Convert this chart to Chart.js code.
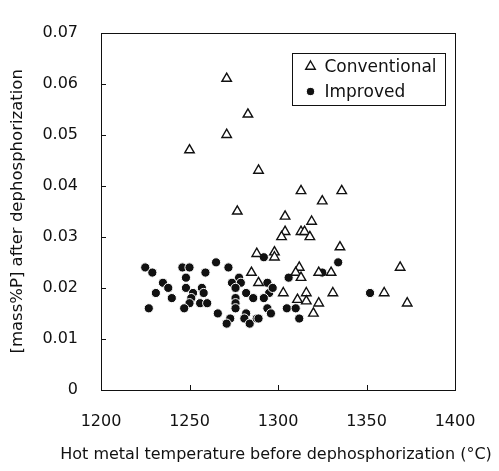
<!DOCTYPE html>
<html>
<head>
<meta charset="utf-8">
<script src="https://cdn.jsdelivr.net/npm/chart.js@4/dist/chart.umd.min.js"></script>
<style>
    html, body { margin: 0; padding: 0; background: #fff; }
    canvas { display: block; }
</style>
</head>
<body>
<canvas id="chartCanvas" width="499" height="471"></canvas>
<script>
"use strict";

// temperature before dephosphorization (deg C) and [mass%P] after
var conventionalTemp = [1250, 1271, 1271, 1283, 1289, 1277, 1313, 1336, 1325, 1304,
    1319, 1304, 1302, 1313, 1315, 1318, 1335, 1288, 1298, 1298,
    1369, 1312, 1310, 1313, 1323, 1330, 1285, 1289, 1303, 1311,
    1316, 1316, 1331, 1360, 1373, 1323, 1320];
var conventionalP = [0.047, 0.061, 0.050, 0.054, 0.043, 0.035, 0.039, 0.039, 0.037, 0.034,
    0.033, 0.031, 0.030, 0.031, 0.031, 0.030, 0.028, 0.0267, 0.027, 0.026,
    0.024, 0.024, 0.023, 0.022, 0.023, 0.023, 0.023, 0.021, 0.019, 0.0177,
    0.019, 0.0174, 0.019, 0.019, 0.017, 0.017, 0.015];

var improvedTemp = [1225, 1229, 1235, 1238, 1231, 1240, 1227, 1246, 1250, 1248,
    1248, 1252, 1251, 1250, 1247, 1257, 1258, 1256, 1260, 1259,
    1265, 1272, 1266, 1278, 1274, 1279, 1276, 1282, 1276, 1276,
    1276, 1273, 1271, 1282, 1281, 1284, 1288, 1286, 1292, 1294,
    1295, 1292, 1294, 1296, 1297, 1289, 1306, 1305, 1310, 1312,
    1325, 1334, 1352];
var improvedP = [0.024, 0.023, 0.021, 0.020, 0.019, 0.018, 0.016, 0.024, 0.024, 0.022,
    0.020, 0.019, 0.018, 0.017, 0.016, 0.020, 0.019, 0.017, 0.017, 0.023,
    0.025, 0.024, 0.015, 0.022, 0.021, 0.021, 0.020, 0.019, 0.018, 0.017,
    0.016, 0.014, 0.013, 0.015, 0.014, 0.013, 0.014, 0.018, 0.026, 0.021,
    0.019, 0.018, 0.016, 0.015, 0.020, 0.014, 0.022, 0.016, 0.016, 0.014,
    0.023, 0.025, 0.019];

var seriesNames = ["Conventional", "Improved"];
var xTickValues = [1200, 1250, 1300, 1350, 1400];
var yTickValues = [0, 0.01, 0.02, 0.03, 0.04, 0.05, 0.06, 0.07];
var yTickLabels = ["0", "0.01", "0.02", "0.03", "0.04", "0.05", "0.06", "0.07"];
var xTitle = "Hot metal temperature before dephosphorization (°C)";
var yTitle = "[mass%P] after dephosphorization";

var FONT = "'DejaVu Sans', Verdana, sans-serif";
var INK = "#111";

function toPoints(xs, ys)
{
    return xs.map(function(x, i)
    {
        return { x: x, y: ys[i] };
    });
}

function drawMarker(ctx, dataset, x, y)
{
    ctx.save();
    ctx.lineWidth = dataset.borderWidth;
    ctx.strokeStyle = dataset.borderColor;
    ctx.fillStyle = dataset.backgroundColor;
    ctx.beginPath();
    if (dataset.pointStyle === "triangle")
    {
        var r = dataset.pointRadius;
        ctx.moveTo(x, y - r);
        ctx.lineTo(x + r * 0.866, y + r * 0.5);
        ctx.lineTo(x - r * 0.866, y + r * 0.5);
        ctx.closePath();
    }
    else
    {
        ctx.arc(x, y, dataset.pointRadius - 0.5, 0, Math.PI * 2);
    }
    ctx.fill();
    ctx.stroke();
    ctx.restore();
}

// frame, inward tick marks, x title (wider than the plot) and the boxed legend
var framePlugin =
{
    id: "frame",
    afterDraw: function(chart)
    {
        var ctx = chart.ctx;
        var area = chart.chartArea;
        var xScale = chart.scales.x;
        var yScale = chart.scales.y;

        ctx.save();
        ctx.strokeStyle = INK;
        ctx.lineWidth = 1;
        ctx.strokeRect(Math.round(area.left) + 0.5, Math.round(area.top) + 0.5,
            Math.round(area.right - area.left), Math.round(area.bottom - area.top));

        ctx.beginPath();
        xTickValues.forEach(function(v)
        {
            var px = Math.round(xScale.getPixelForValue(v)) + 0.5;
            ctx.moveTo(px, area.bottom);
            ctx.lineTo(px, area.bottom - 5);
        });
        yTickValues.forEach(function(v)
        {
            var py = Math.round(yScale.getPixelForValue(v)) + 0.5;
            ctx.moveTo(area.left, py);
            ctx.lineTo(area.left + 5, py);
        });
        ctx.stroke();

        ctx.fillStyle = INK;
        ctx.font = "16px " + FONT;
        ctx.textAlign = "center";
        ctx.textBaseline = "middle";
        ctx.fillText(xTitle, 276, area.bottom + 65);

        var boxW = 153;
        var boxH = 52;
        var bx = Math.round(area.right - 163) + 0.5;
        var by = Math.round(area.top + 20) + 0.5;
        ctx.fillStyle = "#fff";
        ctx.fillRect(bx, by, boxW, boxH);
        ctx.strokeRect(bx, by, boxW, boxH);

        ctx.font = "17px " + FONT;
        ctx.textAlign = "left";
        chart.data.datasets.forEach(function(dataset, i)
        {
            var rowY = by + 13 + i * 25;
            drawMarker(ctx, dataset, bx + 18, rowY);
            ctx.fillStyle = INK;
            ctx.fillText(dataset.label, bx + 32, rowY + 1);
        });
        ctx.restore();
    }
};

var ctx = document.getElementById("chartCanvas").getContext("2d");
var chart = new Chart(ctx,
{
    type: "scatter",
    data:
    {
        datasets: [
            {
                label: seriesNames[0],
                data: toPoints(conventionalTemp, conventionalP),
                pointStyle: "triangle",
                pointRadius: 5.5,
                borderWidth: 1.4,
                borderColor: INK,
                backgroundColor: "#fff",
            },
            {
                label: seriesNames[1],
                data: toPoints(improvedTemp, improvedP),
                pointStyle: "circle",
                pointRadius: 4.6,
                borderWidth: 1,
                borderColor: "#fff",
                backgroundColor: INK,
            },
        ],
    },
    options:
    {
        responsive: false,
        animation: false,
        layout: { padding: { top: 15, right: 44, bottom: 0, left: 0 } },
        plugins:
        {
            legend: { display: false },
            tooltip: { enabled: false },
        },
        scales:
        {
            x:
            {
                type: "linear",
                min: 1200,
                max: 1400,
                afterBuildTicks: function(scale)
                {
                    scale.ticks = xTickValues.map(function(v) { return { value: v }; });
                },
                afterFit: function(scale) { scale.height = 81; },
                grid: { drawOnChartArea: false, drawTicks: false },
                border: { display: false },
                ticks:
                {
                    padding: 22,
                    color: INK,
                    font: { family: FONT, size: 16 },
                    maxRotation: 0,
                    callback: function(value) { return String(value); },
                },
                title: { display: false },
            },
            y:
            {
                type: "linear",
                min: 0,
                max: 0.07,
                afterBuildTicks: function(scale)
                {
                    scale.ticks = yTickValues.map(function(v) { return { value: v }; });
                },
                afterFit: function(scale) { scale.width = 101; },
                grid: { drawOnChartArea: false, drawTicks: false },
                border: { display: false },
                ticks:
                {
                    padding: 23,
                    color: INK,
                    font: { family: FONT, size: 16 },
                    callback: function(value, index) { return yTickLabels[index]; },
                },
                title:
                {
                    display: true,
                    text: yTitle,
                    color: INK,
                    font: { family: FONT, size: 16.5 },
                    padding: { top: 8, bottom: 0 },
                },
            },
        },
    },
    plugins: [framePlugin],
});
</script>
</body>
</html>
